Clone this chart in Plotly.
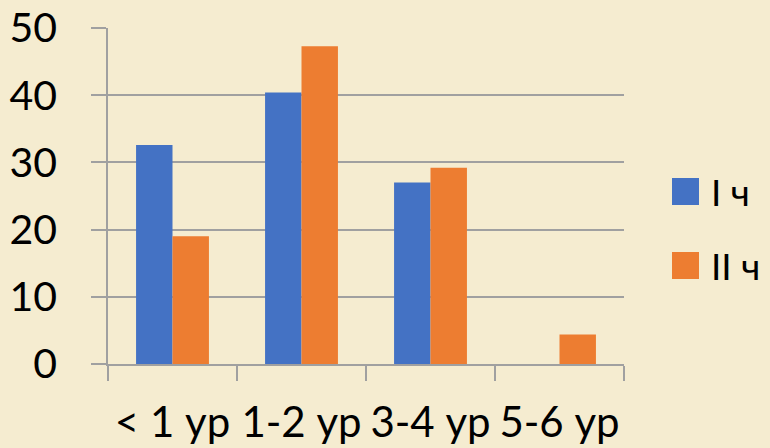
import plotly.graph_objects as go

categories = ["< 1 ур", "1-2 ур", "3-4 ур", "5-6 ур"]
series_names = ["I ч", "II ч"]
values_I = [32.6, 40.4, 27.0, 0]
values_II = [19.0, 47.3, 29.2, 4.4]
y_ticks = [0, 10, 20, 30, 40, 50]

colors = ["#4472C4", "#ED7D31"]
bg = "#F5ECD0"
grid = "#A0A0A0"
font_family = "Lato"

fig = go.Figure()
for name, vals, col in zip(series_names, [values_I, values_II], colors):
    fig.add_trace(go.Bar(x=categories, y=vals, name=name, marker=dict(color=col, line=dict(width=0)),
                         showlegend=False))

W, H = 770, 448
ml, mr, mt, mb = 108, 146, 28, 84
pw, ph = W - ml - mr, H - mt - mb

def px_x(px):
    return (px - ml) / pw

def px_y(py):
    return (H - mb - py) / ph

shapes = []
annotations = []
leg_rows = [(178, 205), (252, 279)]
for (t, b), name, col in zip(leg_rows, series_names, colors):
    shapes.append(dict(type="rect", xref="paper", yref="paper",
                       x0=px_x(672), x1=px_x(699), y0=px_y(b), y1=px_y(t),
                       fillcolor=col, line=dict(width=0)))
    annotations.append(dict(xref="paper", yref="paper", x=px_x(709), y=px_y((t + b) / 2),
                            text=name, showarrow=False, xanchor="left", yanchor="middle",
                            font=dict(size=37, color="#000000", family=font_family)))

fig.update_layout(
    width=W, height=H,
    margin=dict(l=ml, r=mr, t=mt, b=mb, autoexpand=False),
    paper_bgcolor=bg, plot_bgcolor=bg,
    barmode="group", bargap=0.435, bargroupgap=0,
    showlegend=False,
    font=dict(family=font_family, color="#000000"),
    shapes=shapes, annotations=annotations,
    xaxis=dict(showgrid=False, showline=True, linecolor=grid, linewidth=1.5, automargin=False,
               ticks="outside", tickson="boundaries", ticklen=15, tickcolor=grid, tickwidth=1.5,
               tickangle=0,
               tickfont=dict(size=42, family=font_family, color="#000000"),
               ticklabelstandoff=21, zeroline=False),
    yaxis=dict(range=[0, 50], tickvals=y_ticks, showgrid=True, gridcolor=grid, gridwidth=1.5,
               showline=True, linecolor=grid, linewidth=1.5, automargin=False,
               ticks="outside", ticklen=15, tickcolor=grid, tickwidth=1.5,
               tickfont=dict(size=41, family=font_family, color="#000000"),
               ticklabelstandoff=26, zeroline=False),
)

fig.write_html("out.html", config={"displayModeBar": False},
               post_script="document.body.style.margin='0';document.body.style.background='%s';" % bg)
